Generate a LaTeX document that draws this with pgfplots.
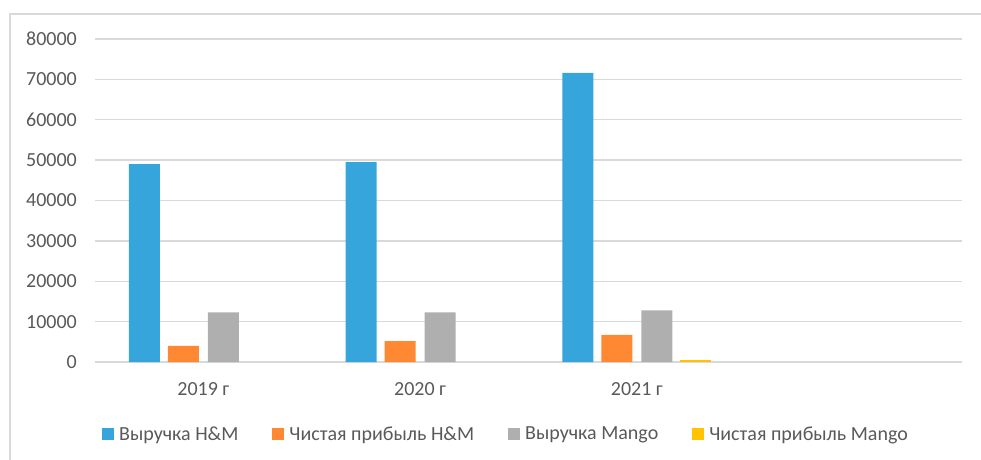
\documentclass[border=0pt]{standalone}
\usepackage{pgfplots}
\pgfplotsset{compat=1.18}
\usepackage{fontspec}
\setmainfont{Carlito}
\definecolor{cblue}{RGB}{53,165,220}
\definecolor{corange}{RGB}{255,137,51}
\definecolor{cgray}{RGB}{175,175,175}
\definecolor{cyellow}{RGB}{255,195,0}
\definecolor{ctext}{RGB}{89,89,89}
\definecolor{cgrid}{RGB}{217,217,217}
\begin{document}
\begin{tikzpicture}[x=1pt,y=1pt]
\useasboundingbox (0,0) rectangle (981,459);
\draw[cgrid, line width=2pt] (10,-20) -- (10,445) -- (1000,445);
\begin{axis}[
  at={(95pt,97pt)}, anchor=south west,
  scale only axis, width=867pt, height=323pt,
  xmin=-0.5, xmax=3.5, ymin=0, ymax=80000,
  xtick={0,1,2}, xticklabels={2019 г,2020 г,2021 г},
  ytick={0,10000,...,80000},
  scaled y ticks=false,
  /pgf/number format/assume math mode=true,
  /pgf/number format/set thousands separator={},
  ymajorgrids, major grid style={cgrid, line width=1.3pt},
  axis line style={draw=none},
  major tick length=0pt,
  tick style={draw=none},
  ticklabel style={font=\fontsize{20}{24}\selectfont, text=ctext},
  yticklabel style={anchor=east, inner sep=0pt, xshift=-18pt},
  xticklabel style={anchor=north, inner sep=0pt, yshift=-20pt},
  legend columns=4,
  legend style={at={(axis description cs:0,0)}, anchor=west, xshift=4pt, yshift=-72pt,
    draw=none, fill=none, font=\fontsize{20}{24}\selectfont, text=ctext,
    /tikz/every even column/.append style={column sep=32pt}},
  legend image code/.code={\fill[#1] (0pt,-6pt) rectangle (12pt,6pt); \path (15pt,0pt);},
]
\addplot[ybar, bar width=31pt, bar shift=-59pt, fill=cblue, draw=none]
  coordinates {(0,49000) (1,49500) (2,71600)};
\addlegendentry{Выручка H\&M}
\addplot[ybar, bar width=31pt, bar shift=-20pt, fill=corange, draw=none]
  coordinates {(0,4000) (1,5200) (2,6700)};
\addlegendentry{Чистая прибыль H\&M}
\addplot[ybar, bar width=31pt, bar shift=20pt, fill=cgray, draw=none]
  coordinates {(0,12300) (1,12300) (2,12800)};
\addlegendentry{Выручка Mango}
\addplot[ybar, bar width=31pt, bar shift=59pt, fill=cyellow, draw=none]
  coordinates {(2,500)};
\addlegendentry{Чистая прибыль Mango}
\end{axis}
\end{tikzpicture}
\end{document}
